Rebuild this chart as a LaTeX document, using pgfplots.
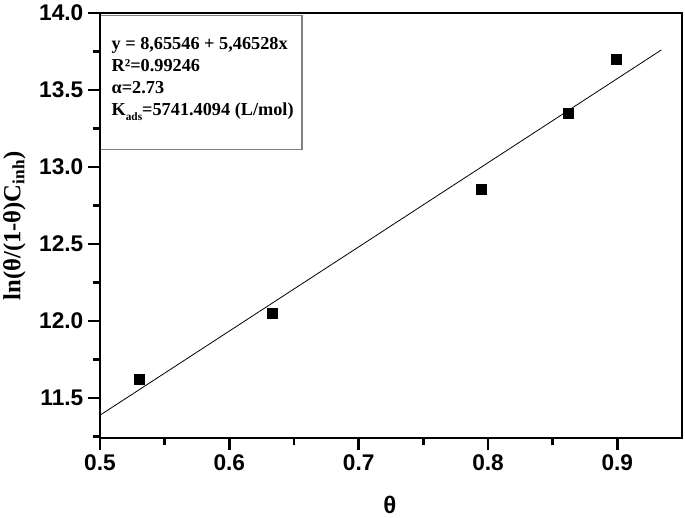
\documentclass[border=0pt]{standalone}
\usepackage{pgfplots}
\pgfplotsset{compat=1.18}
\usepackage{fontspec}
\setmainfont{Liberation Serif}
\setsansfont{Liberation Sans}

\pgfplotsset{
  every tick/.append style={line width=2.2pt, black},
  every minor tick/.append style={line width=2.2pt, black},
  every major tick/.append style={line width=2.2pt, black},
}

\begin{document}
\begin{tikzpicture}
\begin{axis}[
  scale only axis,
  width=436.5pt, height=318.75pt,
  xmin=0.5, xmax=0.95,
  ymin=11.24, ymax=14.0,
  xtick={0.5,0.6,0.7,0.8,0.9},
  minor xtick={0.55,0.65,0.75,0.85},
  ytick={11.5,12.0,12.5,13.0,13.5,14.0},
  minor ytick={11.25,11.75,12.25,12.75,13.25,13.75},
  tick pos=left,
  tick align=outside,
  major tick length=9pt,
  minor tick length=5.5pt,
  axis line style={line width=2.2pt},
  ticklabel style={/pgf/number format/fixed, /pgf/number format/fixed zerofill,
    /pgf/number format/precision=1, /pgf/number format/assume math mode=true},
  tick label style={font=\sffamily\bfseries\fontsize{17}{17}\selectfont},
  xlabel={\fontsize{18}{18}\selectfont\sffamily\bfseries θ},
  ylabel={\fontsize{18.5}{18.5}\selectfont\bfseries ln(θ/(1-θ)C\textsubscript{inh})},
  xlabel style={at={(axis description cs:0.498,-0.158)}, anchor=center},
  ylabel style={at={(axis description cs:-0.147,0.499)}, anchor=center},
  clip=false,
]
% linear fit
\addplot[black, line width=0.6pt] coordinates {(0.5,11.388) (0.934,13.760)};
% data
\addplot[only marks, mark=square*, mark size=3.75pt, black, line width=0.4pt] coordinates {
  (0.530,11.623) (0.633,12.052) (0.795,12.857) (0.862,13.350) (0.899,13.700)
};
\draw[gray, line width=0.8pt] (rel axis cs:0,0.995) rectangle ([xshift=151.5pt,yshift=-101pt]rel axis cs:0,0.995);
\node[anchor=north west, align=left, inner sep=0,
      font=\bfseries\fontsize{13.7}{16.6}\selectfont]
  at ([xshift=8.5pt,yshift=-18pt]rel axis cs:0,1)
  {y = 8,65546 + 5,46528x\\
   R²=0.99246\\
   α=2.73\\
   K\raisebox{-0.5ex}{\fontsize{8.5}{8.5}\selectfont ads}=5741.4094 (L/mol)};
% heavy frame as in the original
\draw[black, line width=2.2pt] (rel axis cs:0,0) rectangle (rel axis cs:1,1);
\end{axis}
\pgfresetboundingbox
\path ([xshift=-75pt,yshift=-59.25pt]current axis.south west)
  rectangle ([xshift=2.25pt,yshift=9.75pt]current axis.north east);
\end{tikzpicture}
\end{document}
